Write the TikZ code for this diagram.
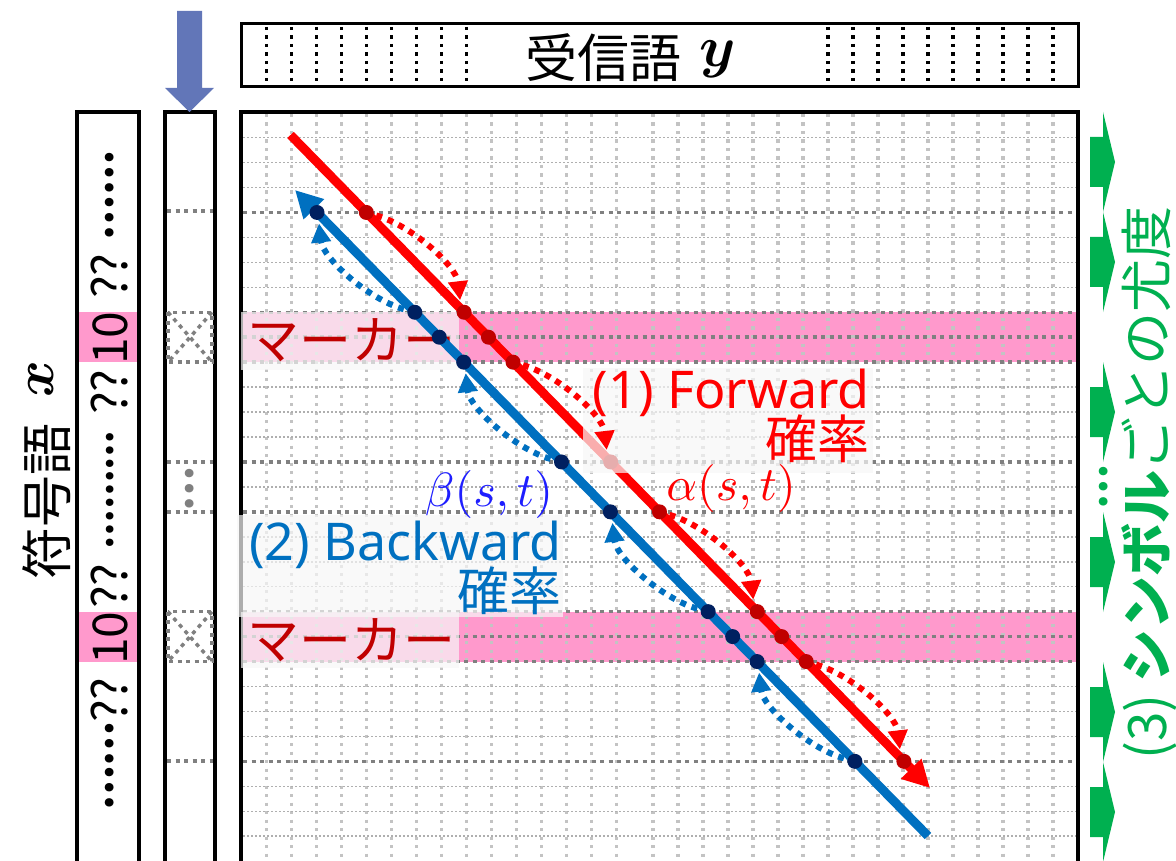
\documentclass[tikz,border=0pt]{standalone}
\usepackage{amsmath}
\usepackage{graphicx}
\usepackage{fontspec}
\setmainfont{Noto Sans CJK JP}
\newfontfamily\lat{Noto Sans}
\usetikzlibrary{arrows.meta}
\definecolor{cred}{RGB}{255,0,0}
\definecolor{dred}{RGB}{192,0,0}
\definecolor{cblue}{RGB}{0,112,192}
\definecolor{navy}{RGB}{0,32,96}
\definecolor{pinkm}{RGB}{255,153,204}
\definecolor{cgreen}{RGB}{0,176,80}
\definecolor{arrowblue}{RGB}{98,118,184}
\definecolor{gridlight}{RGB}{195,195,195}
\definecolor{gridthin}{RGB}{175,175,175}
\definecolor{griddark}{RGB}{128,128,128}
\definecolor{betablue}{RGB}{30,30,255}
\newcommand{\bigmath}[2]{\scalebox{#1}{\normalsize$#2$}}
\begin{document}
\begin{tikzpicture}[x=1pt,y=-1pt,
  vgrid/.style={draw=gridlight, line width=3.2pt, dash pattern=on 3.2pt off 5.3pt},
  hthin/.style={draw=gridthin, line width=1.5pt, dash pattern=on 1.5pt off 2.5pt},
  hthick/.style={draw=griddark, line width=3.5pt, dash pattern=on 4pt off 4.5pt},
  topdots/.style={draw=black, line width=3.3pt, dash pattern=on 3.3pt off 5.2pt},
  boxline/.style={draw=black, line width=3.5pt},
  redmain/.style={draw=cred, line width=9pt},
  bluemain/.style={draw=cblue, line width=9pt},
  rdot/.style={circle, fill=dred, minimum size=15pt, inner sep=0pt},
  bdotn/.style={circle, fill=navy, minimum size=15pt, inner sep=0pt},
  rarc/.style={draw=cred, line width=6pt, dash pattern=on 6pt off 6pt, -{Triangle[length=19pt,width=19pt]}},
  barc/.style={draw=cblue, line width=6pt, dash pattern=on 6pt off 6pt, -{Triangle[length=19pt,width=19pt]}},
  veil/.style={fill=black!3, fill opacity=0.7},
  codetxt/.style={rotate=90, anchor=center, inner sep=0pt, font=\fontsize{48}{56}\selectfont},
  ellip/.style={rotate=90, anchor=center, inner sep=0pt, font=\bfseries\fontsize{40}{48}\selectfont},
  cjk/.style={inner sep=0pt, font=\fontsize{52}{60}\selectfont},
  twoline/.style={inner sep=0pt, align=right, font=\fontsize{52}{49}\selectfont},
  mathlab/.style={inner sep=0pt},
  greenarrow/.style={fill=cgreen}
]
\useasboundingbox (0,0) rectangle (1176,861);
\clip (0,0) rectangle (1176,861);
\fill[white] (0,0) rectangle (1176,861);

% pink marker bands
\fill[pinkm] (243,312.3) rectangle (1076,362.2);
\fill[pinkm] (243,611.7) rectangle (1076,661.6);
\fill[pinkm] (79,312.3) rectangle (137,362.2);
\fill[pinkm] (79,611.7) rectangle (137,661.6);

% grid
\foreach \k in {0,...,14} \draw[vgrid] ({266.7+25*\k},114) -- ({266.7+25*\k},861);
\foreach \k in {0,...,16} \draw[vgrid] ({653+25*\k},114) -- ({653+25*\k},861);
\foreach \k in {0,1,2,4,5,6,10,11,12,14,16,17,18,22,23,24,26,27,28}
  \draw[hthin] (243,{137.6+24.95*\k}) -- (1076,{137.6+24.95*\k});
\foreach \k in {3,7,8,9,13,15,19,20,21,25}
  \draw[hthick] (243,{137.6+24.95*\k}) -- (1076,{137.6+24.95*\k});

% frames
\draw[boxline] (241,870) -- (241,112) -- (1078,112) -- (1078,870);
\draw[boxline, line width=3pt] (241,24) rectangle (1078,86.5);
\draw[boxline, line width=4pt] (77,870) -- (77,112) -- (139,112) -- (139,870);
\draw[boxline, line width=4pt] (165,870) -- (165,112) -- (215,112) -- (215,870);

% dotted columns in received word box
\foreach \k in {0,...,8} \draw[topdots] ({266.7+25*\k},27) -- ({266.7+25*\k},84);
\foreach \k in {0,...,9} \draw[topdots] ({828+25*\k},27) -- ({828+25*\k},84);

% column 2 contents
\draw[hthick] (167,211) -- (213,211);
\draw[hthick] (167,761) -- (213,761);
\draw[hthick] (168,312.3) rectangle (212,362.2);
\draw[hthick] (168,312.3) -- (212,362.2) (212,312.3) -- (168,362.2);
\draw[hthick] (168,611.7) rectangle (212,661.6);
\draw[hthick] (168,611.7) -- (212,661.6) (212,611.7) -- (168,661.6);
\draw[hthick] (167,462) -- (213,462) (167,512) -- (213,512);
\node[ellip, text=griddark] (c2dots) at (190,489) {…};

% blue down arrow
\fill[arrowblue] (177,11) -- (202,11) -- (202,88) -- (214,88) -- (189.5,112) -- (165,88) -- (177,88) -- cycle;

% column 1 code word
\node[ellip] (c1) at (110,196) {……};
\node[codetxt] (c2) at (110,276) {??};
\node[codetxt] (c3) at (110,338) {10};
\node[codetxt] (c4) at (110,392) {??};
\node[ellip, font=\bfseries\fontsize{35}{40}\selectfont] (c5) at (110,490) {………};
\node[codetxt] (c6) at (110,586) {??};
\node[codetxt] (c7) at (110,638) {10};
\node[codetxt] (c8) at (110,700) {??};
\node[ellip] (c9) at (110,766) {……};

% labels of words
\node[cjk, rotate=90, anchor=base west] (xlab) at (66,580) {符号語\hspace{0.5em}\raisebox{13pt}{\bigmath{5.6}{\boldsymbol{x}}}};
\node[cjk, anchor=base west] (ylab) at (525,78) {受信語\hspace{0.35em}\raisebox{11.5pt}{\bigmath{5.8}{\boldsymbol{y}}}};

% marker veils and labels
\fill[veil] (241,312.3) rectangle (459,370);
\fill[veil] (241,611.7) rectangle (459,668);
\node[cjk, anchor=base west, text=dred] (mk1) at (247,359) {マーカー};
\node[cjk, anchor=base west, text=dred] (mk2) at (247,659) {マーカー};

% main lines
\coordinate (rs) at (290.5,135);
\coordinate (re) at (930,788);
\coordinate (bs) at (295,190);
\coordinate (be) at (928,836);
\draw[redmain, -{Triangle[length=27pt,width=27pt]}] (rs) -- (re);
\draw[bluemain, {Triangle[length=27pt,width=27pt]}-] (bs) -- (be);

% dots
\node[rdot] (r3) at (366.3,212.45) {};
\node[rdot] (r7) at (464.1,312.25) {};
\node[rdot] (r8) at (488.5,337.2) {};
\node[rdot] (r9) at (513.0,362.15) {};
\node[rdot] (r13) at (610.7,461.95) {};
\node[rdot] (r15) at (659.5,511.85) {};
\node[rdot] (r19) at (757.3,611.65) {};
\node[rdot] (r20) at (781.7,636.6) {};
\node[rdot] (r21) at (806.2,661.55) {};
\node[rdot] (r25) at (903.9,761.35) {};
\node[bdotn] (b3) at (317.0,212.45) {};
\node[bdotn] (b7) at (414.8,312.25) {};
\node[bdotn] (b8) at (439.3,337.2) {};
\node[bdotn] (b9) at (463.7,362.15) {};
\node[bdotn] (b13) at (561.5,461.95) {};
\node[bdotn] (b15) at (610.4,511.85) {};
\node[bdotn] (b19) at (708.2,611.65) {};
\node[bdotn] (b20) at (732.7,636.6) {};
\node[bdotn] (b21) at (757.1,661.55) {};
\node[bdotn] (b25) at (854.9,761.35) {};

% label veils
\fill[veil] (583,368) rectangle (873,473);
\fill[veil] (237,515) rectangle (563,617);

% forward arcs
\draw[rarc] ([shift={(10,3)}]r3.center) .. controls +(35,10) and +(-4,-35) .. ([shift={(-4,-12)}]r7.center);
\draw[rarc] ([shift={(10,3)}]r9.center) .. controls +(35,10) and +(-4,-35) .. ([shift={(-4,-12)}]r13.center);
\draw[rarc] ([shift={(10,3)}]r15.center) .. controls +(35,10) and +(-4,-35) .. ([shift={(-4,-12)}]r19.center);
\draw[rarc] ([shift={(10,3)}]r21.center) .. controls +(35,10) and +(-4,-35) .. ([shift={(-4,-12)}]r25.center);
% backward arcs
\draw[barc] ([shift={(-11,-3)}]b7.center) .. controls +(-35,-10) and +(4,35) .. ([shift={(2,11)}]b3.center);
\draw[barc] ([shift={(-11,-3)}]b13.center) .. controls +(-35,-10) and +(4,35) .. ([shift={(2,11)}]b9.center);
\draw[barc] ([shift={(-11,-3)}]b19.center) .. controls +(-35,-10) and +(4,35) .. ([shift={(2,11)}]b15.center);
\draw[barc] ([shift={(-11,-3)}]b25.center) .. controls +(-35,-10) and +(4,35) .. ([shift={(2,11)}]b21.center);

% probability labels
\node[twoline, anchor=south east, text=cred] (fw) at (870,463.5) {{\lat (1) Forward}\\[-2pt]確率};
\node[twoline, anchor=south east, text=cblue] (bw) at (562,615.5) {{\lat (2) Backward}\\[-2pt]確率};
\node[mathlab, text=betablue] (beta) at (489,494) {\bigmath{4.8}{\beta(s,t)}};
\node[mathlab, text=cred] (alpha) at (731,488) {\bigmath{4.8}{\alpha(s,t)}};

% green likelihood arrows
\foreach \c in {162,262,412,562,712,812}
  \fill[greenarrow] (1090,\c-25) -- (1103,\c-25) -- (1103,\c-50) -- (1115,\c) -- (1103,\c+50) -- (1103,\c+25) -- (1090,\c+25) -- cycle;
\node[ellip, text=cgreen] (gdots) at (1104,487) {…};
\node[inner sep=0pt, rotate=90, anchor=base west, text=cgreen, font=\fontsize{53}{60}\selectfont] (lik) at (1166,760) {(3) \textbf{シンボル}ごとの尤度};
\end{tikzpicture}
\end{document}
